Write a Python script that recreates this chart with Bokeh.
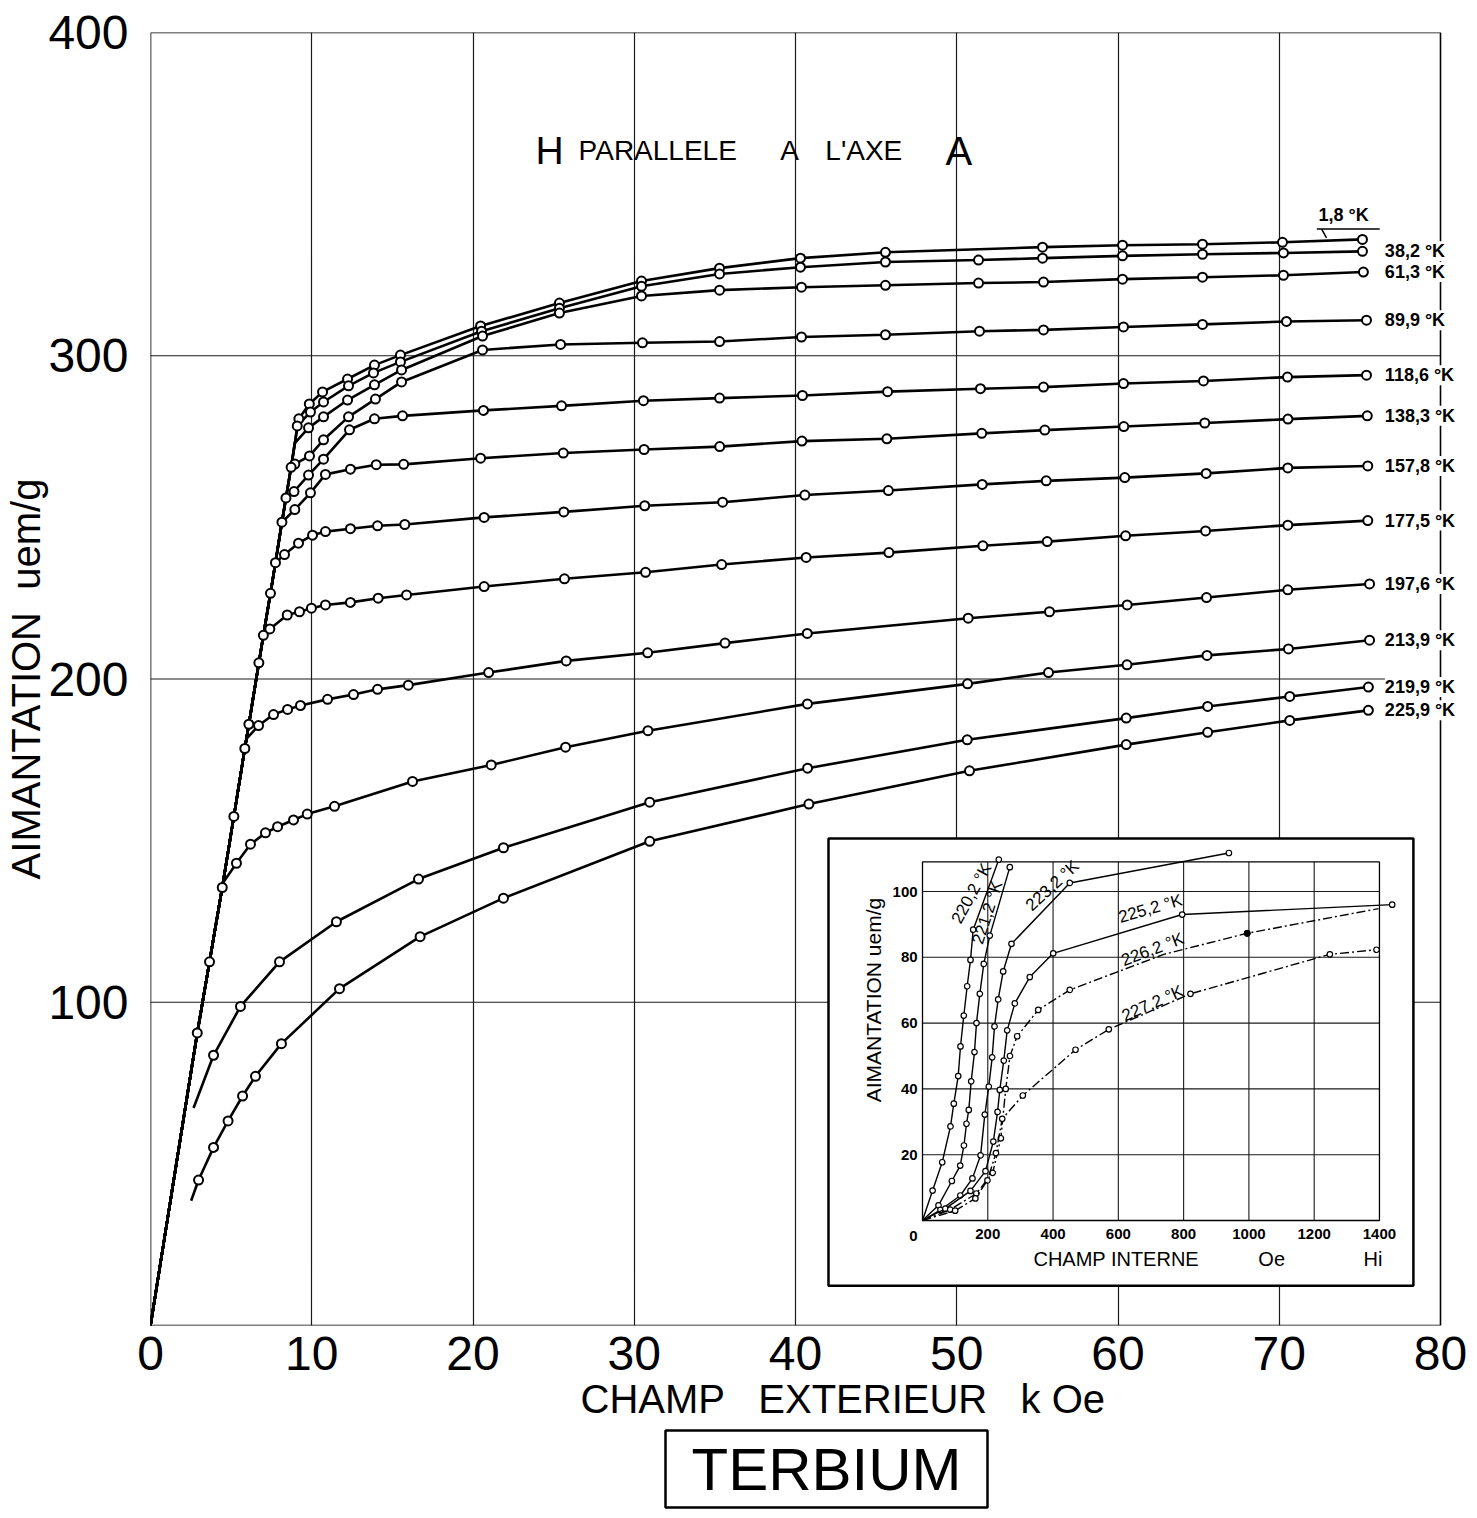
import math
from bokeh.plotting import figure
from bokeh.models import Range1d, Label, FixedTicker, Title
from bokeh.embed import file_html
from bokeh.resources import INLINE
from bokeh.core.properties import value

SANS = "Liberation Sans"
NB = "\u00a0"

# ---------------- main chart data (H in kOe, M in uem/g) ----------------
X_TICKS = [0, 10, 20, 30, 40, 50, 60, 70, 80]
Y_TICKS = [100, 200, 300, 400]

# common initial line (points read along it)
STEEP_H = [0, 2.90, 3.66, 4.45, 5.17, 5.85, 6.10, 6.72, 7.00, 7.44, 7.75, 8.15, 8.40, 8.72]
STEEP_M = [0, 90.5, 112.5, 135.5, 157.5, 178.5, 186.0, 205.0, 213.5, 226.5, 236.0, 248.5, 256.0, 265.5]

# first value of each curve = where it leaves the common line (no marker)
H_018 = [9.00, 9.20, 9.85, 10.67, 12.22, 13.89, 15.50, 20.47, 25.36, 30.45, 35.29, 40.31, 45.58, 55.32, 60.28, 65.24, 70.20, 75.16]
M_018 = [274.5, 280.5, 285.1, 288.8, 292.8, 297.1, 300.2, 309.2, 316.3, 323.1, 327.1, 330.2, 332.0, 333.6, 334.2, 334.5, 335.1, 336.0]

H_382 = [9.00, 9.10, 9.92, 10.73, 12.28, 13.83, 15.50, 20.53, 25.36, 30.45, 35.29, 40.31, 45.58, 51.35, 55.32, 60.28, 65.24, 70.26, 75.16]
M_382 = [274.5, 278.3, 282.6, 285.7, 290.7, 294.7, 298.1, 307.6, 314.7, 321.5, 325.3, 327.4, 329.0, 329.6, 330.2, 330.9, 331.4, 331.8, 332.3]

H_613 = [8.95, 9.80, 10.73, 12.22, 13.89, 15.57, 20.59, 25.36, 30.45, 35.29, 40.37, 45.58, 51.35, 55.38, 60.28, 65.24, 70.26, 75.22]
M_613 = [273.0, 277.7, 281.1, 286.3, 291.0, 295.6, 306.1, 313.2, 318.5, 320.3, 321.2, 321.8, 322.5, 322.8, 323.7, 324.3, 324.9, 325.9]

H_899 = [8.72, 8.95, 9.86, 10.73, 12.28, 13.95, 15.57, 20.59, 25.43, 30.51, 35.29, 40.37, 45.58, 51.41, 55.38, 60.34, 65.24, 70.45, 75.41]
M_899 = [265.5, 266.5, 269.0, 274.0, 281.1, 286.6, 291.9, 301.8, 303.5, 304.0, 304.4, 305.8, 306.5, 307.6, 308.0, 308.9, 309.7, 310.6, 311.0]

H_1186 = [8.40, 8.90, 9.80, 10.73, 12.34, 13.89, 15.63, 20.65, 25.49, 30.57, 35.29, 40.43, 45.71, 51.47, 55.38, 60.34, 65.30, 70.51, 75.41]
M_1186 = [256.0, 258.0, 263.1, 268.0, 277.1, 280.5, 281.4, 283.1, 284.5, 286.1, 286.9, 287.7, 288.9, 289.8, 290.3, 291.4, 292.2, 293.4, 294.0]

H_1383 = [8.15, 8.95, 9.92, 10.85, 12.40, 14.00, 15.70, 20.47, 25.60, 30.61, 35.30, 40.40, 45.67, 51.55, 55.46, 60.36, 65.38, 70.54, 75.46]
M_1383 = [248.5, 252.4, 257.6, 263.3, 264.9, 266.3, 266.4, 268.3, 269.9, 271.0, 271.9, 273.6, 274.3, 276.0, 277.0, 278.1, 279.2, 280.4, 281.4]

H_1578 = [7.75, 8.31, 9.18, 10.05, 10.85, 12.40, 14.08, 15.77, 20.69, 25.63, 30.65, 35.48, 40.58, 45.76, 51.58, 55.55, 60.42, 65.47, 70.53, 75.49]
M_1578 = [236.0, 238.5, 242.0, 244.5, 245.6, 246.5, 247.4, 247.8, 250.0, 251.7, 253.6, 254.7, 256.9, 258.3, 260.2, 261.3, 262.3, 263.6, 265.3, 265.9]

H_1775 = [7.00, 7.40, 8.48, 9.24, 9.98, 10.85, 12.40, 14.12, 15.88, 20.69, 25.67, 30.70, 35.42, 40.66, 45.79, 51.62, 55.61, 60.47, 65.43, 70.53, 75.49]
M_1775 = [213.5, 215.5, 219.8, 220.8, 221.9, 222.9, 223.7, 225.0, 226.0, 228.6, 231.0, 233.0, 235.4, 237.6, 239.1, 241.2, 242.5, 244.3, 245.8, 247.6, 249.0]

H_1976 = [5.95, 6.70, 7.63, 8.50, 9.30, 10.98, 12.59, 14.08, 15.99, 20.97, 25.78, 30.83, 35.63, 40.73, 50.71, 55.75, 60.57, 65.49, 70.53, 75.60]
M_1976 = [181.5, 185.6, 189.0, 190.6, 191.8, 193.7, 195.2, 196.8, 198.1, 202.0, 205.6, 208.1, 211.1, 214.1, 218.8, 220.8, 222.9, 225.2, 227.6, 229.4]

H_2139 = [4.50, 5.33, 6.20, 7.13, 7.88, 8.87, 9.72, 11.41, 16.25, 21.13, 25.74, 30.85, 40.74, 50.67, 55.69, 60.56, 65.52, 70.57, 75.60]
M_2139 = [137.0, 143.0, 148.9, 152.4, 154.3, 156.4, 158.2, 160.6, 168.3, 173.4, 178.9, 184.0, 192.3, 198.5, 202.0, 204.4, 207.3, 209.3, 212.0]

# these two do not start on the common line
H_2199 = [2.67, 3.91, 5.58, 8.00, 11.53, 16.62, 21.89, 30.96, 40.75, 50.65, 60.51, 65.56, 70.65, 75.53]
M_2199 = [67.3, 83.6, 98.7, 112.5, 124.9, 138.1, 147.8, 161.9, 172.4, 181.2, 187.9, 191.5, 194.6, 197.5]

H_2259 = [2.52, 2.98, 3.91, 4.81, 5.71, 6.51, 8.12, 11.72, 16.72, 21.89, 30.96, 40.83, 50.79, 60.51, 65.56, 70.65, 75.53]
M_2259 = [38.6, 45.0, 55.1, 63.3, 71.0, 77.1, 87.2, 104.2, 120.3, 132.2, 149.8, 161.3, 171.6, 179.7, 183.5, 187.2, 190.3]

CURVES = [
    ("1,8 °K", H_018, M_018, True),
    ("38,2 °K", H_382, M_382, True),
    ("61,3 °K", H_613, M_613, True),
    ("89,9 °K", H_899, M_899, True),
    ("118,6 °K", H_1186, M_1186, True),
    ("138,3 °K", H_1383, M_1383, True),
    ("157,8 °K", H_1578, M_1578, True),
    ("177,5 °K", H_1775, M_1775, True),
    ("197,6 °K", H_1976, M_1976, True),
    ("213,9 °K", H_2139, M_2139, True),
    ("219,9 °K", H_2199, M_2199, False),
    ("225,9 °K", H_2259, M_2259, False),
]

# ---------------- inset data (H internal in Oe, M in uem/g) ----------------
I_X_TICKS = [0, 200, 400, 600, 800, 1000, 1200, 1400]
I_Y_TICKS = [0, 20, 40, 60, 80, 100]

I_2202_H = [0, 30.9, 60.4, 85.8, 95.9, 109.4, 116.4, 126.5, 136.9, 147.1, 155.3, 233.8]
I_2202_M = [0, 9.1, 17.7, 28.6, 35.5, 43.9, 52.9, 62.3, 71.2, 79.2, 88.4, 109.7]
I_2212_H = [0, 49, 90, 115.5, 127, 134.8, 141.8, 149.2, 159.3, 165.4, 175.6, 187.8, 206.2, 267.5]
I_2212_M = [0, 4.6, 12.0, 16.7, 22.8, 29.4, 33.6, 42.3, 51.2, 60.0, 68.9, 78.0, 86.6, 107.4]
I_2232_H = [0, 55, 116, 153, 178, 190.9, 203.1, 213.5, 220.6, 231.9, 247.2, 272.7, 451.3, 938.7]
I_2232_M = [0, 3.2, 7.6, 12.8, 19.8, 32.2, 40.7, 49.6, 59.0, 67.2, 75.7, 84.1, 102.6, 111.7]
I_2252_H = [0, 70, 147, 193, 217, 230, 236.8, 249, 259.5, 282.8, 328.7, 400.4, 795.6, 1439]
I_2252_M = [0, 3.6, 9.0, 15.0, 24.0, 33.0, 39.7, 48.6, 57.8, 66.0, 74.0, 81.2, 93.0, 96.0]
I_2262_H = [0, 85, 165, 215, 240, 255, 268, 290, 354.5, 451.3, 739.3, 994.8, 1397]
I_2262_M = [0, 3.3, 8.2, 14.5, 25.0, 40.0, 50.0, 56.0, 64.0, 70.1, 80.9, 87.3, 94.8]
I_2272_H = [0, 100, 162, 199, 225, 244.2, 307.3, 468.8, 570.8, 821, 1248, 1391]
I_2272_M = [0, 3.0, 6.7, 12.2, 20.5, 30.9, 38.0, 51.9, 58.1, 68.9, 80.9, 82.3]

# (label, H, M, dashed, indices without marker)
I_CURVES = [
    ("220,2 °K", I_2202_H, I_2202_M, False, {0}),
    ("221,2 °K", I_2212_H, I_2212_M, False, {0}),
    ("223,2 °K", I_2232_H, I_2232_M, False, {0}),
    ("225,2 °K", I_2252_H, I_2252_M, False, {0}),
    ("226,2 °K", I_2262_H, I_2262_M, True, {0, 10, 12}),
    ("227,2 °K", I_2272_H, I_2272_M, True, {0}),
]
I_FILLED = (994.8, 87.3)
# label anchor (inset coords) and angle in degrees
I_LABEL_POS = [(150, 99.4, 61.6), (199, 93.6, 72), (398, 101.8, 42.5),
               (698, 94.8, 16), (705, 82.4, 21), (705, 66.0, 24)]

# ---------------- figure geometry (page px; canvas starts at page 0,0) ----------------
W, H = 1476, 1517
FR_L, FR_T, FR_B = 150.0, 32.0, 1325.0          # frame left / top / bottom
PX_PER_K = (1440.0 - FR_L) / X_TICKS[-1]         # main x scale (x=80 at px 1440)
FR_R = 1470.0                                    # frame extended right for the labels
X_END = (FR_R - FR_L) / PX_PER_K
PX_PER_M = (FR_B - FR_T) / Y_TICKS[-1]

p = figure(width=W, height=H, output_backend="svg", toolbar_location=None,
           x_range=Range1d(0, X_END), y_range=Range1d(0, Y_TICKS[-1]),
           min_border_left=int(FR_L), min_border_right=int(W - FR_R),
           min_border_top=int(FR_T), min_border_bottom=int(H - FR_B))
p.background_fill_color = "white"
p.border_fill_color = "white"
p.outline_line_color = None

for ax in (p.xaxis, p.yaxis):
    ax.axis_line_color = None
    ax.major_tick_line_color = None
    ax.minor_tick_line_color = None
    ax.major_label_text_font = SANS
    ax.major_label_text_font_size = "48px"
    ax.major_label_text_color = "black"
p.xaxis.ticker = FixedTicker(ticks=X_TICKS)
p.yaxis.ticker = FixedTicker(ticks=Y_TICKS)
p.xaxis.major_label_standoff = 5
p.yaxis.major_label_standoff = 16
p.yaxis.axis_label = "AIMANTATION" + NB * 2 + "uem/g"
p.yaxis.axis_label_text_font = SANS
p.yaxis.axis_label_text_font_size = "40px"
p.yaxis.axis_label_text_font_style = "normal"
p.yaxis.axis_label_text_color = "black"
p.yaxis.axis_label_standoff = -3

p.xgrid.ticker = FixedTicker(ticks=X_TICKS[1:-1])
p.xgrid.grid_line_color = "#1a1a1a"
p.xgrid.grid_line_width = 1.2
p.ygrid.grid_line_color = None
for t in Y_TICKS[:-1]:
    p.segment(x0=[0], y0=[t], x1=[X_TICKS[-1]], y1=[t], line_color="#1a1a1a", line_width=1.2)
# frame box 0..80 x 0..400
p.line([0, X_TICKS[-1], X_TICKS[-1], 0, 0], [0, 0, Y_TICKS[-1], Y_TICKS[-1], 0],
       line_color="black", line_width=1.6)

# ---- titles below the x axis ----
p.add_layout(Title(text="CHAMP" + NB * 3 + "EXTERIEUR" + NB * 3 + "k" + NB + "Oe",
                   align="left", offset=430, standoff=5, text_font=SANS,
                   text_font_size="40px", text_font_style="normal", text_color="black"), "below")
p.add_layout(Title(text="TERBIUM", align="left", offset=515, standoff=10, text_font=SANS,
                   text_font_size="60px", text_font_style="normal", text_color="black",
                   border_line_color="black", border_line_width=2.5,
                   background_fill_color="white", padding=(26, 5)), "below")

# ---- inset (drawn on extra ranges inside the main frame) ----
IX_PX0, IX_SCALE = 922.0, 0.3264     # page px of H=0, px per Oe
IY_PX0, IY_SCALE = 1220.0, 3.29      # page px of M=0, px per uem/g
p.extra_x_ranges = {"ix": Range1d((FR_L - IX_PX0) / IX_SCALE, (FR_R - IX_PX0) / IX_SCALE)}
p.extra_y_ranges = {"iy": Range1d((IY_PX0 - FR_B) / IY_SCALE, (IY_PX0 - FR_T) / IY_SCALE)}
IR = dict(x_range_name="ix", y_range_name="iy")
I_OUTER = (-288, 1504, -19.8, 116.1)
I_TOP = 109

p.quad(left=[I_OUTER[0]], right=[I_OUTER[1]], bottom=[I_OUTER[2]], top=[I_OUTER[3]],
       fill_color="white", line_color="black", line_width=2.5, **IR)
for t in I_X_TICKS[1:-1]:
    p.segment(x0=[t], y0=[0], x1=[t], y1=[I_TOP], line_color="#1a1a1a", line_width=1.1, **IR)
for t in I_Y_TICKS[1:]:
    p.segment(x0=[0], y0=[t], x1=[I_X_TICKS[-1]], y1=[t], line_color="#1a1a1a", line_width=1.1, **IR)
p.quad(left=[0], right=[I_X_TICKS[-1]], bottom=[0], top=[I_TOP],
       fill_color=None, line_color="black", line_width=1.3, **IR)

for (lab_, hh, mm, dashed, skip), (lx, ly, ang) in zip(I_CURVES, I_LABEL_POS):
    p.line(hh, mm, line_color="black", line_width=1.4,
           line_dash="9 3 2 3" if dashed else "solid", **IR)
    mx = [h for i, h in enumerate(hh) if i not in skip]
    my = [m for i, m in enumerate(mm) if i not in skip]
    p.scatter(mx, my, marker="circle", size=5.5, fill_color="white", line_color="black",
              line_width=1.2, **IR)
    p.add_layout(Label(x=lx, y=ly, text=lab_, angle=math.radians(ang), text_align="center",
                       text_baseline="middle", text_font=SANS, text_font_size="17px",
                       text_color="black", **IR))
p.scatter([I_FILLED[0]], [I_FILLED[1]], marker="circle", size=6, fill_color="black",
          line_color="black", **IR)

p.text(x=[-15] * 5, y=I_Y_TICKS[1:], text=[str(t) for t in I_Y_TICKS[1:]],
       text_font=value(SANS), text_font_style="bold", text_font_size="15px",
       text_align="right", text_baseline="middle", **IR)
p.text(x=I_X_TICKS[1:], y=[-4.2] * 7, text=[str(t) for t in I_X_TICKS[1:]],
       text_font=value(SANS), text_font_style="bold", text_font_size="15px",
       text_align="center", text_baseline="middle", **IR)
p.text(x=[-28], y=[-4.8], text=["0"], text_font=value(SANS), text_font_style="bold",
       text_font_size="15px", text_align="center", text_baseline="middle", **IR)
p.text(x=[340, 1029, 1351], y=[-11.8] * 3, text=["CHAMP INTERNE", "Oe", "Hi"],
       text_font=value(SANS), text_font_size="20px", text_align="left",
       text_baseline="middle", **IR)
p.text(x=[-150], y=[67], text=["AIMANTATION uem/g"], angle=[math.pi / 2],
       text_font=value(SANS), text_font_size="21px", text_align="center",
       text_baseline="middle", **IR)

# ---- main curves ----
for lab_, hh, mm, from_line in CURVES:
    if from_line:
        lx = [h for h in STEEP_H if h < hh[0]] + hh
        ly = [m for h, m in zip(STEEP_H, STEEP_M) if h < hh[0]] + mm
    else:
        lx, ly = hh, mm
    p.line(lx, ly, line_color="black", line_width=2.6)

for lab_, hh, mm, from_line in CURVES:
    p.scatter(hh[1:], mm[1:], marker="circle", size=9, fill_color="white",
              line_color="black", line_width=2)
p.scatter(STEEP_H[1:], STEEP_M[1:], marker="circle", size=9, fill_color="white",
          line_color="black", line_width=2)

# ---- temperature labels at right ----
LBL_X = 76.55
for lab_, hh, mm, from_line in CURVES[1:]:
    p.add_layout(Label(x=LBL_X, y=mm[-1], text=lab_, text_baseline="middle",
                       text_font=SANS, text_font_size="18px", text_font_style="bold",
                       text_color="black", background_fill_color="white"))
L18_X, L18_Y = 72.43, (FR_B - 214) / PX_PER_M
p.add_layout(Label(x=L18_X, y=L18_Y, text=CURVES[0][0], text_baseline="middle",
                   text_font=SANS, text_font_size="18px", text_font_style="bold",
                   text_color="black"))
p.line([L18_X - 0.1, L18_X + 3.8], [L18_Y - 4.5, L18_Y - 4.5], line_color="black", line_width=1.5)
p.line([L18_X + 0.2, L18_X + 0.5], [L18_Y - 4.5, L18_Y - 7.2], line_color="black", line_width=1.5)

# ---- title inside plot ----
def lab(x, y, text, size, align="left", baseline="alphabetic", angle=0.0):
    p.add_layout(Label(x=x, y=y, text=text, text_font=SANS, text_font_size=size,
                       text_align=align, text_baseline=baseline, angle=angle,
                       text_color="black"))

TY = (FR_B - 150) / PX_PER_M
lab(23.88, TY, "H", "39px")
lab(26.55, TY, "PARALLELE", "28px")
lab(39.05, TY, "A", "28px")
lab(41.85, TY, "L'AXE", "28px")
lab(49.3, TY, "A", "40px")

open("out.html", "w").write(file_html(p, INLINE))
